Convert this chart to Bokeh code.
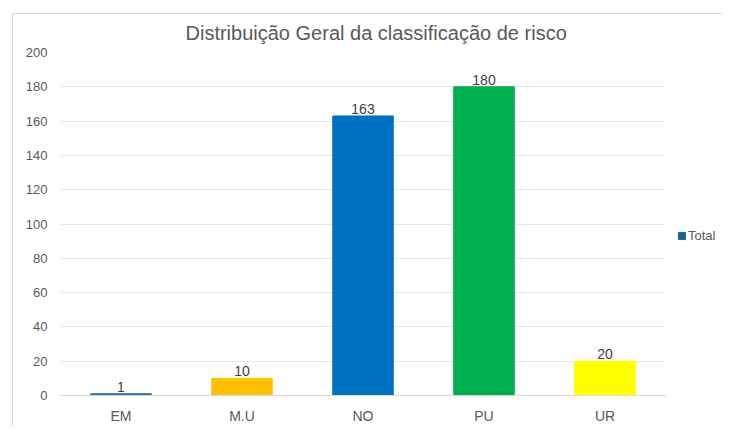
from bokeh.plotting import figure
from bokeh.layouts import row
from bokeh.models import ColumnDataSource, Legend, LegendItem, LabelSet, FixedTicker, Range1d
from bokeh.core.properties import value
from bokeh.embed import file_html
from bokeh.resources import INLINE

categories = ["EM", "M.U", "NO", "PU", "UR"]
totals = [1, 10, 163, 180, 20]
colors = ["#2A6A9A", "#FFC000", "#0070C0", "#00B050", "#FFFF00"]
y_ticks = [0, 20, 40, 60, 80, 100, 120, 140, 160, 180, 200]
title_text = "Distribuição Geral da classificação de risco"
series_name = "Total"
series_color = "#1F6391"

FONT = "Liberation Sans"
H = 426

src = ColumnDataSource(dict(cat=categories, val=totals, color=colors,
                            lbl=[str(v) for v in totals]))

p = figure(x_range=categories, y_range=Range1d(0, 200), width=658, height=H,
           output_backend="svg", toolbar_location=None,
           min_border_left=48, min_border_top=52, min_border_bottom=31, min_border_right=5)
p.border_fill_color = None
p.background_fill_color = "white"
p.title.text = title_text
p.title.align = "left"
p.title.offset = 125
p.title.vertical_align = "top"
p.title.text_font = FONT
p.title.text_font_size = "20px"
p.title.text_font_style = "normal"
p.title.text_color = "#595959"
p.title.standoff = 14

r = p.vbar(x="cat", top="val", width=0.5, color="color", source=src)

labels = LabelSet(x="cat", y="val", text="lbl", source=src, text_align="center",
                  text_baseline="bottom", y_offset=2, text_font=value(FONT),
                  text_font_size="14px", text_color="#404040")
p.add_layout(labels)

p.yaxis.ticker = FixedTicker(ticks=y_ticks)
p.yaxis.axis_line_color = None
p.yaxis.major_tick_line_color = None
p.yaxis.minor_tick_line_color = None
p.yaxis.major_label_text_font = FONT
p.yaxis.major_label_text_font_size = "13px"
p.yaxis.major_label_text_color = "#595959"
p.yaxis.major_label_standoff = 7

p.xaxis.axis_line_color = "#D9D9D9"
p.xaxis.major_tick_line_color = None
p.xaxis.minor_tick_line_color = None
p.xaxis.major_label_text_font = FONT
p.xaxis.major_label_text_font_size = "14px"
p.xaxis.major_label_text_color = "#595959"
p.xaxis.major_label_standoff = 6

p.xgrid.grid_line_color = None
p.ygrid.grid_line_color = "#E6E6E6"
p.outline_line_color = None
p.x_range.range_padding = 0

# legend panel (its ranges keep the helper bars out of view; only the legend shows)
lg = figure(width=52, height=H, output_backend="svg", toolbar_location=None,
            x_range=Range1d(-100, -99), y_range=Range1d(-100, -99),
            x_axis_type=None, y_axis_type=None,
            min_border_left=0, min_border_right=0, min_border_top=0, min_border_bottom=0)
lg.border_fill_color = None
lg.background_fill_color = None
lg.outline_line_color = None
lg.xgrid.grid_line_color = None
lg.ygrid.grid_line_color = None
helper = lg.vbar(x="val", top="val", width=0.5, color=series_color, source=src)
legend = Legend(items=[LegendItem(label=series_name, renderers=[helper])],
                label_text_font=FONT, label_text_font_size="13px",
                label_text_color="#595959", glyph_width=9, glyph_height=9,
                label_standoff=2, border_line_color=None, background_fill_alpha=0,
                padding=0, margin=0, spacing=0, label_height=14,
                location=(7, 152))
lg.add_layout(legend)

layout = row(p, lg, margin=(0, 0, 0, 12),
             styles={"box-shadow": "inset 0 13px 0 0 #FFFFFF, inset 0 14px 0 0 #D9D9D9, inset 1px 0 0 0 #D9D9D9"})

open("out.html", "w").write(file_html(layout, INLINE))
